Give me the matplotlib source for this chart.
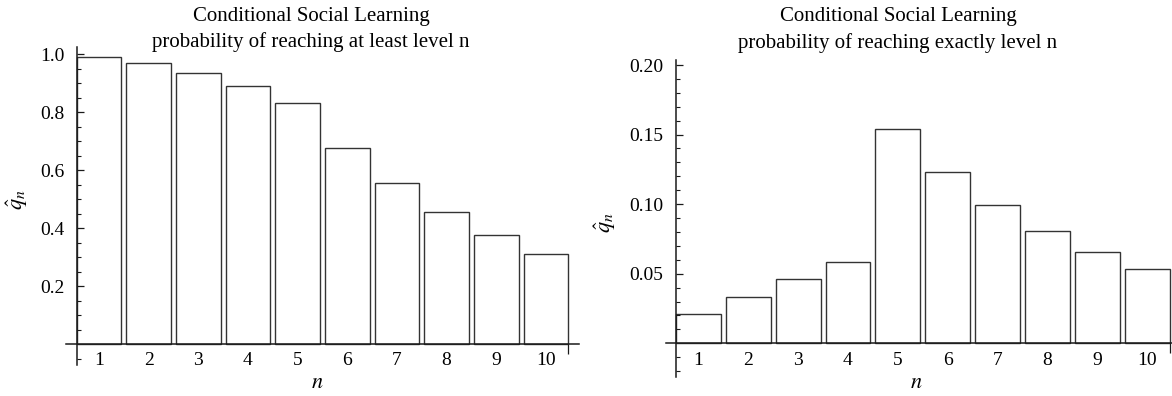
import matplotlib
matplotlib.use("Agg")
from matplotlib import pyplot as plt
import numpy as np

# data
levels = [1, 2, 3, 4, 5, 6, 7, 8, 9, 10]
at_least = [0.991, 0.970, 0.937, 0.890, 0.831, 0.678, 0.554, 0.455, 0.375, 0.309]
exactly = [0.0212, 0.0334, 0.0462, 0.0582, 0.154, 0.1233, 0.0993, 0.0805, 0.0654, 0.0534]

left_yticks = [0.2, 0.4, 0.6, 0.8, 1.0]
left_ylabels = ["0.2", "0.4", "0.6", "0.8", "1.0"]
right_yticks = [0.05, 0.10, 0.15, 0.20]
right_ylabels = ["0.05", "0.10", "0.15", "0.20"]

plt.rcParams['font.family'] = ['Liberation Serif', 'DejaVu Serif']
plt.rcParams['mathtext.fontset'] = 'stix'

W, H = 1172, 396
fig = plt.figure(figsize=(W / 100, H / 100), dpi=100)

bar_w = 0.9
ink = '#1a1a1a'


def px_box(x0, x1, ytop, ybot):
    # pixel box -> figure fraction [left, bottom, width, height]
    return [x0 / W, 1 - ybot / H, (x1 - x0) / W, (ybot - ytop) / H]


def setup(ax, vals, ylim, xlim, major, major_lbl, minor_step, ylab_xy, xlab_xy):
    ax.bar(levels, vals, width=bar_w, facecolor='white', edgecolor='#333333', linewidth=1.0)
    ax.set_xlim(*xlim)
    ax.set_ylim(*ylim)
    for s in ['top', 'right']:
        ax.spines[s].set_visible(False)
    ax.spines['left'].set_position(('data', 1 - bar_w / 2))
    ax.spines['bottom'].set_position(('data', 0))
    for s in ['left', 'bottom']:
        ax.spines[s].set_color(ink)
        ax.spines[s].set_linewidth(1.1)
    ax.set_yticks(major)
    ax.set_yticklabels(major_lbl)
    minors = [v for v in np.arange(-10, 400) * minor_step
              if ylim[0] <= v <= ylim[1] and abs(v) > 1e-9
              and not any(abs(v - m) < 1e-9 for m in major)]
    ax.set_yticks(minors, minor=True)
    ax.tick_params(axis='y', which='major', direction='in', length=5, width=0.9,
                   color=ink, labelsize=14, pad=9)
    ax.tick_params(axis='y', which='minor', direction='in', length=3, width=0.8, color=ink)
    ax.set_xticks(levels)
    ax.set_xticklabels([str(l) for l in levels])
    ax.tick_params(axis='x', which='major', length=0, labelsize=14, pad=6)
    # end tick at the right side of the last bar
    ax.set_xticks([levels[-1] + bar_w / 2], minor=True)
    ax.tick_params(axis='x', which='minor', direction='out', length=7, width=0.9, color=ink)
    ax.set_ylabel(r'$\hat{q}_n$', fontsize=16, va='center')
    ax.yaxis.set_label_coords(*ylab_xy)
    ax.set_xlabel(r'$n$', fontsize=16, va='center')
    ax.xaxis.set_label_coords(*xlab_xy)


ax1 = fig.add_axes(px_box(66, 578.7, 47.3, 364.9))
setup(ax1, at_least, (-0.072, 1.024), (0.335, 10.66), left_yticks, left_ylabels, 0.05,
      (-0.094, 0.52), (0.491, -0.06))

ax2 = fig.add_axes(px_box(666, 1172, 60, 376.7))
setup(ax2, exactly, (-0.024, 0.2036), (0.349, 10.5), right_yticks, right_ylabels, 0.01,
      (-0.12, 0.488), (0.494, -0.022))

# two-line titles
fig.text(311 / W, 1 - 17 / H, 'Conditional Social Learning', ha='center', va='center', fontsize=15)
fig.text(311 / W, 1 - 42 / H, 'probability of reaching at least level n', ha='center', va='center', fontsize=15)
fig.text(898 / W, 1 - 17 / H, 'Conditional Social Learning', ha='center', va='center', fontsize=15)
fig.text(898 / W, 1 - 43 / H, 'probability of reaching exactly level n', ha='center', va='center', fontsize=15)

fig.savefig('out.png', dpi=100)
